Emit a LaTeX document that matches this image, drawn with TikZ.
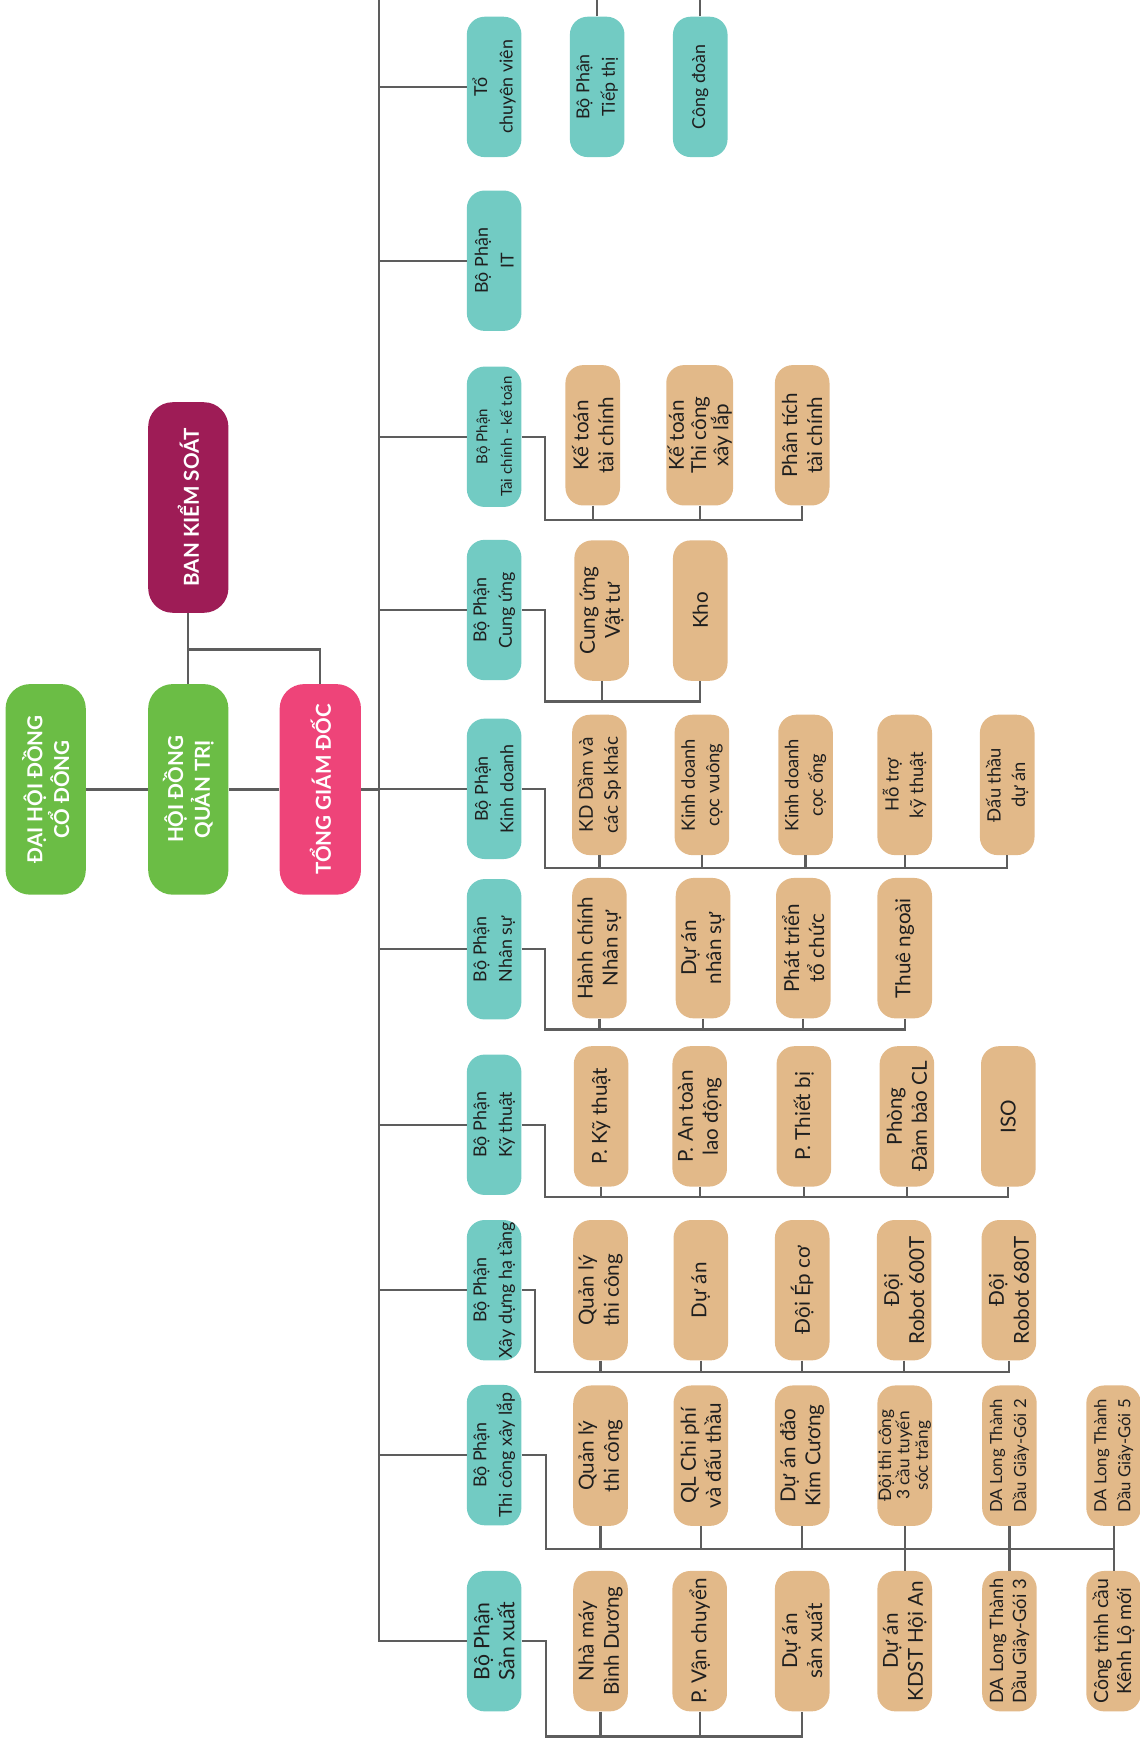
\documentclass[tikz,border=0pt]{standalone}
\usepackage{fontspec}
\setmainfont{Lato}
\definecolor{headgreen}{RGB}{107,189,69}
\definecolor{headpink}{RGB}{238,68,121}
\definecolor{headplum}{RGB}{158,28,86}
\definecolor{deptteal}{RGB}{114,203,195}
\definecolor{unittan}{RGB}{226,185,137}
\definecolor{linegray}{RGB}{93,93,93}

\begin{document}
\begin{tikzpicture}[x=1pt, y=-1pt,
link/.style={draw=linegray, line width=2pt},
box/.style={rotate=90, rectangle, rounded corners=16pt, inner xsep=0pt, inner ysep=0pt, align=center, minimum width=126pt, minimum height=49pt, text=black!88},
dept/.style={box, fill=deptteal, font=\fontsize{16}{23}\selectfont},
unit/.style={box, fill=unittan, font=\fontsize{18.5}{22.5}\selectfont},
head/.style={box, minimum width=189pt, minimum height=72pt, rounded corners=22pt, text=white, font=\bfseries\fontsize{18.5}{24}\selectfont}]
		\useasboundingbox (0,0) rectangle (1023,1568);

\node[head, fill=headgreen] (dhdcd) at (41,708.5) {ĐẠI HỘI ĐỒNG\\CỔ ĐÔNG};
\node[head, fill=headgreen] (hdqt) at (169,708.5) {HỘI ĐỒNG\\QUẢN TRỊ};
\node[head, fill=headpink, minimum height=73pt] (tgd) at (287.5,708.5) {TỔNG GIÁM ĐỐC};
\node[head, fill=headplum] (bks) at (169,455.5) {BAN KIỂM SOÁT};

\node[dept] (t1) at (443.5,78) {Tổ\\chuyên viên};
\node[dept] (t1b) at (536,78) {Bộ Phận\\Tiếp thị};
\node[dept] (t1c) at (628.5,78) {Công đoàn};
\node[dept] (t2) at (443.5,234) {Bộ Phận\\IT};
\node[dept, font=\fontsize{13.5}{22}\selectfont] (t3) at (443.5,392) {Bộ Phận\\Tài chính - kế toán};
\node[dept] (t4) at (443.5,547.5) {Bộ Phận\\Cung ứng};
\node[dept] (t5) at (443.5,708) {Bộ Phận\\Kinh doanh};
\node[dept] (t6) at (443.5,852) {Bộ Phận\\Nhân sự};
\node[dept] (t7) at (443.5,1009.5) {Bộ Phận\\Kỹ thuật};
\node[dept] (t8) at (443.5,1158) {Bộ Phận\\Xây dựng hạ tầng};
\node[dept] (t9) at (443.5,1306) {Bộ Phận\\Thi công xây lắp};
\node[dept, font=\fontsize{19}{22.5}\selectfont] (t10) at (443.5,1473) {Bộ Phận\\Sản xuất};

\node[unit] (u31) at (532,390.7) {Kế toán\\tài chính};
\node[unit, minimum height=60pt, font=\fontsize{18.5}{20}\selectfont] (u32) at (628,390.7) {Kế toán\\Thi công\\xây lắp};
\node[unit] (u33) at (720,390.7) {Phân tích\\tài chính};

\node[unit] (u41) at (540,548) {Cung ứng\\Vật tư};
\node[unit] (u42) at (628.5,548) {Kho};

\node[unit, font=\fontsize{17}{22.5}\selectfont] (u51) at (538,704.5) {KD Dầm và\\các Sp khác};
\node[unit, font=\fontsize{16.5}{22}\selectfont] (u52) at (630,704.5) {Kinh doanh\\cọc vuông};
\node[unit, font=\fontsize{16.5}{22}\selectfont] (u53) at (723,704.5) {Kinh doanh\\cọc ống};
\node[unit, font=\fontsize{16.5}{22}\selectfont] (u54) at (812,704.5) {Hỗ trợ\\kỹ thuật};
\node[unit, font=\fontsize{16.5}{22}\selectfont] (u55) at (904,704.5) {Đấu thầu\\dự án};

\node[unit] (u61) at (538,851) {Hành chính\\Nhân sự};
\node[unit] (u62) at (631,851) {Dự án\\nhân sự};
\node[unit] (u63) at (721,851) {Phát triển\\tổ chức};
\node[unit] (u64) at (812,851) {Thuê ngoài};

\node[unit] (u71) at (539.5,1002) {P. Kỹ thuật};
\node[unit] (u72) at (628,1002) {P. An toàn\\lao động};
\node[unit] (u73) at (721.5,1002) {P. Thiết bị};
\node[unit] (u74) at (814,1002) {Phòng\\Đảm bảo CL};
\node[unit] (u75) at (905,1002) {ISO};

\node[unit] (u81) at (539,1158) {Quản lý\\thi công};
\node[unit] (u82) at (629,1158) {Dự án};
\node[unit] (u83) at (720,1158) {Đội Ép cơ};
\node[unit] (u84) at (811.5,1158) {Đội\\Robot 600T};
\node[unit] (u85) at (905.5,1158) {Đội\\Robot 680T};

\node[unit] (u91) at (539,1306.5) {Quản lý\\thi công};
\node[unit] (u92) at (629,1306.5) {QL Chi phí\\và đấu thầu};
\node[unit] (u93) at (720,1306.5) {Dự án đảo\\Kim Cương};
\node[unit, font=\fontsize{15.5}{16.5}\selectfont] (u94) at (812,1306.5) {Đội thi công\\3 cầu tuyến\\sóc trăng};
\node[unit, font=\fontsize{15}{21.5}\selectfont] (u95) at (906,1306.5) {DA Long Thành\\Dầu Giây-Gói 2};
\node[unit, font=\fontsize{15}{21.5}\selectfont] (u96) at (999.5,1306.5) {DA Long Thành\\Dầu Giây-Gói 5};

\node[unit] (u101) at (539,1473) {Nhà máy\\Bình Dương};
\node[unit] (u102) at (628,1473) {P. Vận chuyển};
\node[unit] (u103) at (720,1473) {Dự án\\sản xuất};
\node[unit] (u104) at (812,1473) {Dự án\\KDST Hội An};
\node[unit, font=\fontsize{16.5}{20.5}\selectfont] (u105) at (906,1473) {DA Long Thành\\Dầu Giây-Gói 3};
\node[unit, font=\fontsize{17.5}{20.5}\selectfont] (u106) at (999.5,1473) {Công trình cầu\\Kênh Lộ mới};

\coordinate (top) at (340,0);
\coordinate (k0) at (169,583);
\coordinate (k3) at (489,466.6);
\coordinate (k4) at (489,629.6);
\coordinate (k5) at (489,779);
\coordinate (k6) at (489,924);
\coordinate (k7) at (489,1074);
\coordinate (k8) at (480.5,1231.7);
\coordinate (k9) at (490,1390);
\coordinate (k10) at (490,1558.5);

\draw[link] (dhdcd.south) -- (hdqt.north);
\draw[link] (hdqt.south) -- (tgd.north);
\draw[link] (bks.west) -- (hdqt.east);
\draw[link] (k0) -| (tgd.east);
\draw[link] (tgd.south) -- (tgd.south -| top);

\draw[link] (top) |- (t10.north);
\draw[link] (t1.north) -- (t1.north -| top);
\draw[link] (t2.north) -- (t2.north -| top);
\draw[link] (t3.north) -- (t3.north -| top);
\draw[link] (t4.north) -- (t4.north -| top);
\draw[link] (t5.north) -- (t5.north -| top);
\draw[link] (t6.north) -- (t6.north -| top);
\draw[link] (t7.north) -- (t7.north -| top);
\draw[link] (t8.north) -- (t8.north -| top);
\draw[link] (t9.north) -- (t9.north -| top);
\draw[link] (t1b.east) -- (t1b.east |- top);
\draw[link] (t1c.east) -- (t1c.east |- top);

\draw[link] (t3.south) -| (k3) -| (u33.west);
\draw[link] (u31.west) -- (u31.west |- k3) (u32.west) -- (u32.west |- k3);
\draw[link] (t4.south) -| (k4) -| (u42.west);
\draw[link] (u41.west) -- (u41.west |- k4);
\draw[link] (t5.south) -| (k5) -| (u55.west);
\draw[link] (u51.west) -- (u51.west |- k5) (u52.west) -- (u52.west |- k5) (u53.west) -- (u53.west |- k5) (u54.west) -- (u54.west |- k5);
\draw[link] (t6.south) -| (k6) -| (u64.west);
\draw[link] (u61.west) -- (u61.west |- k6) (u62.west) -- (u62.west |- k6) (u63.west) -- (u63.west |- k6);
\draw[link] (t7.south) -| (k7) -| (u75.west);
\draw[link] (u71.west) -- (u71.west |- k7) (u72.west) -- (u72.west |- k7) (u73.west) -- (u73.west |- k7) (u74.west) -- (u74.west |- k7);
\draw[link] (t8.south) -| (k8) -| (u85.west);
\draw[link] (u81.west) -- (u81.west |- k8) (u82.west) -- (u82.west |- k8) (u83.west) -- (u83.west |- k8) (u84.west) -- (u84.west |- k8);
\draw[link] (t9.south) -| (k9) -| (u96.west);
\draw[link] (u91.west) -- (u91.west |- k9) (u92.west) -- (u92.west |- k9) (u93.west) -- (u93.west |- k9) (u95.west) -- (u95.west |- k9);
\draw[link] (u94.west) -- (u104.east) (u95.west) -- (u105.east) (u96.west |- k9) -- (u106.east);
\draw[link] (t10.south) -| (k10) -| (u103.west);
\draw[link] (u101.west) -- (u101.west |- k10) (u102.west) -- (u102.west |- k10);
	\end{tikzpicture}
\end{document}
